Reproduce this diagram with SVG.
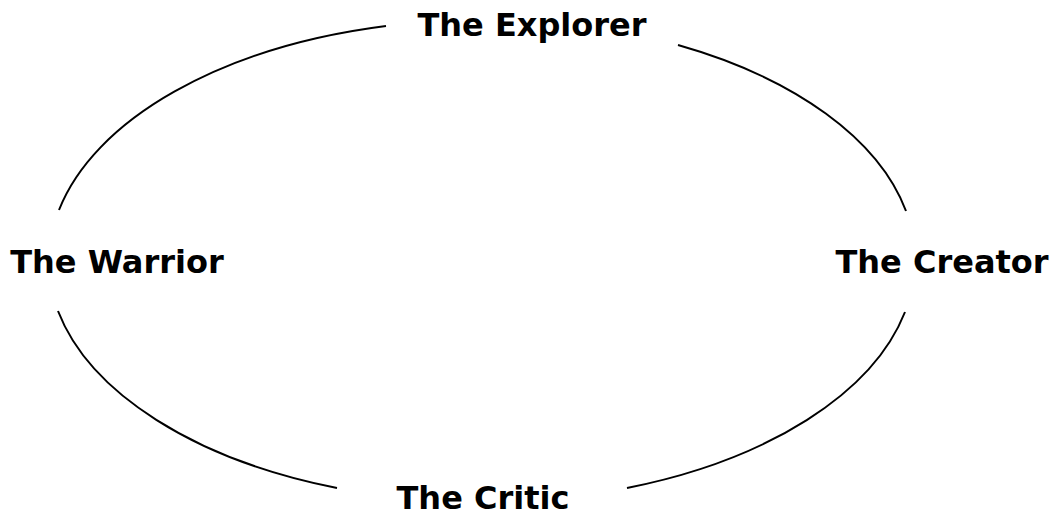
<svg xmlns="http://www.w3.org/2000/svg" width="1053" height="515" viewBox="0 0 1053 515">
<style>
.arc{fill:none;stroke:#000;stroke-width:2}
.lbl{font-family:"DejaVu Sans",Verdana,sans-serif;font-weight:bold;font-size:32px;fill:#000;text-anchor:middle}
</style>
<rect width="1053" height="515" fill="#fff"/>
<g id="connectors">
<path class="arc" d="M59,210 A433,242 0 0 1 386,26"/>
<path class="arc" d="M678,45 A433,242 0 0 1 906,211"/>
<path class="arc" d="M905,312 A433,242 0 0 1 627,488"/>
<path class="arc" d="M337,488 A433,242 0 0 1 58,311"/>
</g>
<g id="explorer"><text class="lbl" x="532" y="36">The Explorer</text></g>
<g id="warrior"><text class="lbl" x="117" y="273">The Warrior</text></g>
<g id="creator"><text class="lbl" x="942" y="273">The Creator</text></g>
<g id="critic"><text class="lbl" x="483" y="509">The Critic</text></g>
</svg>
